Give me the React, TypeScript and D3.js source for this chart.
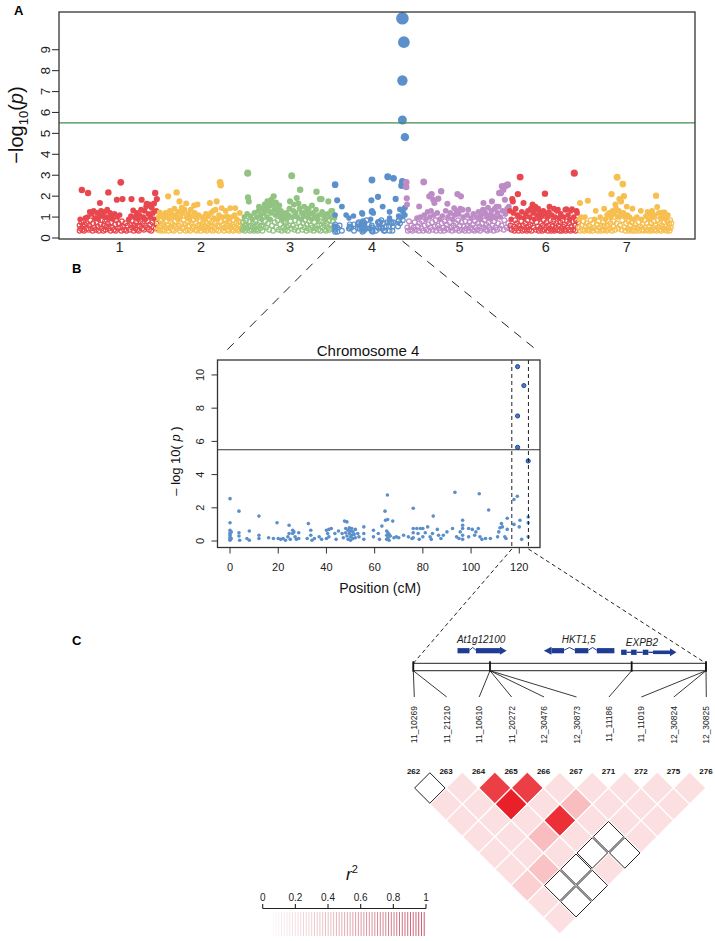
import React from "react";
import * as d3 from "d3";

const FONT = "'Liberation Sans', Arial, Helvetica, sans-serif";

// ---------- Panel A data ----------
const CHR_NAMES = ["1", "2", "3", "4", "5", "6", "7"];
const CHR_LENGTHS = [138, 151, 165, 126, 184, 122, 165];
const CHR_COLORS = ["#E8474E", "#F6BF4F", "#92C382", "#5C90CB", "#BD8BC5", "#E8474E", "#F6BF4F"];

const CHR1_POINTS = [
  5,2.3, 16,2.15, 37,1.67, 52,2.18, 67,1.83, 74,2.66, 77,1.86, 93,1.86, 96,1.32, 111,1.83, 120,1.64, 135,2.15, 138,1.86,
  1,0.35, 1,0.6, 2,0.9, 3,0.45, 4,0.75, 6,0.4, 7,0.55, 8,0.8, 9,0.35, 10,0.65, 11,0.95, 13,0.45, 14,0.7, 15,1.0, 17,0.4,
  18,0.6, 19,1.25, 20,0.85, 21,0.45, 22,1.15, 24,0.35, 25,0.7, 26,1.3, 27,0.5, 28,0.95, 30,0.4, 31,0.75, 32,1.2, 33,0.55,
  34,0.9, 35,0.35, 36,1.1, 38,0.65, 39,1.3, 40,0.45, 41,0.85, 42,1.05, 43,0.35, 44,0.6, 45,1.25, 46,0.8, 47,0.4, 48,1.0,
  49,0.55, 50,1.35, 51,0.7, 53,0.45, 54,0.95, 55,1.2, 56,0.35, 57,0.75, 58,1.05, 59,0.5, 60,0.9, 62,0.4, 63,1.15, 64,0.65,
  65,0.35, 66,0.85, 68,1.0, 69,0.45, 70,0.7, 72,1.1, 73,0.5, 75,0.35, 76,0.8, 78,0.55, 80,0.4, 82,0.7, 84,0.35, 86,0.6,
  88,0.9, 90,0.4, 91,0.65, 92,1.05, 94,0.5, 95,0.8, 97,0.35, 98,0.6, 99,1.0, 100,0.45, 101,0.75, 102,1.2, 103,0.4, 104,0.6,
  105,0.9, 106,0.35, 107,1.1, 108,0.55, 109,0.8, 110,1.35, 112,0.45, 113,0.7, 114,1.0, 115,0.4, 116,1.3, 117,0.6, 118,0.9,
  119,1.5, 121,0.5, 122,0.8, 123,1.15, 124,0.4, 125,1.6, 126,0.65, 127,1.0, 128,0.35, 129,1.45, 130,0.75, 131,1.2, 132,0.5,
  133,1.65, 134,0.9, 136,0.45, 137,1.3, 137,0.7,
];
const CHR2_POINTS = [
  5,1.23, 20,1.99, 35,2.18, 40,1.75, 44,1.45, 52,1.65, 60,1.35, 66,1.55, 72,1.6, 94,1.67, 100,1.3, 106,1.75, 112,2.66,
  113,2.53, 115,1.43, 122,1.3, 130,1.43, 139,1.43, 147,1.2,
  1,0.4, 2,0.75, 3,1.0, 4,0.5, 6,0.35, 7,0.85, 8,0.6, 9,1.1, 10,0.4, 11,0.7, 12,0.95, 13,0.35, 14,0.55, 15,1.2, 16,0.8,
  17,0.45, 18,1.05, 19,0.6, 21,0.35, 22,0.9, 23,1.3, 24,0.5, 25,0.75, 26,1.15, 27,0.4, 28,0.65, 29,1.0, 30,0.35, 31,1.4,
  32,0.8, 33,0.55, 34,1.1, 36,0.45, 37,0.9, 38,1.25, 39,0.6, 41,0.35, 42,1.0, 43,0.7, 45,0.45, 46,1.2, 47,0.85, 48,0.5,
  49,1.35, 50,0.65, 51,0.35, 53,1.0, 54,0.75, 55,0.4, 56,1.15, 57,0.6, 58,0.9, 59,0.35, 61,0.7, 62,1.05, 63,0.45, 64,0.85,
  65,0.55, 67,1.2, 68,0.4, 69,0.7, 70,0.95, 71,0.35, 73,0.6, 74,1.1, 75,0.45, 77,0.8, 78,0.35, 79,0.65, 80,1.0, 81,0.5,
  82,0.75, 84,0.4, 85,0.9, 86,0.55, 87,1.15, 88,0.35, 89,0.7, 90,0.45, 91,1.05, 92,0.6, 93,0.85, 95,0.4, 96,1.2, 97,0.55,
  98,0.8, 99,0.35, 101,0.95, 102,0.5, 103,0.7, 104,1.35, 105,0.4, 107,0.6, 108,0.9, 109,0.35, 110,1.1, 111,0.55, 114,0.8,
  116,0.45, 117,1.0, 118,0.65, 119,0.35, 120,0.85, 121,0.5, 123,0.7, 124,1.05, 125,0.4, 126,0.6, 127,0.9, 128,0.35,
  129,0.75, 131,0.5, 132,1.0, 133,0.4, 134,0.65, 135,0.85, 136,0.35, 137,0.55, 138,1.1, 140,0.45, 141,0.7, 142,0.9,
  143,0.4, 144,0.6, 145,0.8, 146,0.35, 148,0.55, 149,0.75, 150,0.45,
];
const CHR3_POINTS = [
  10,3.1, 10.5,1.94, 12,1.74, 30,1.5, 40,1.6, 45,1.75, 52,1.83, 56,1.99, 60,1.7, 66,1.55, 85,1.75, 88,2.98, 92,1.6,
  97,1.91, 100,1.65, 103,2.31, 110,1.5, 118,1.4, 124,1.55, 132,2.21, 138,1.86, 141,1.86, 153,1.75, 160,1.3,
  1,0.4, 2,0.75, 3,0.5, 4,1.0, 5,0.35, 6,0.6, 7,0.85, 8,0.45, 9,1.15, 11,0.55, 13,0.8, 14,0.35, 15,1.05, 16,0.6, 17,0.4,
  18,0.9, 19,0.5, 20,0.7, 21,0.35, 22,1.2, 23,0.55, 24,0.8, 25,0.4, 26,1.0, 27,0.65, 28,0.35, 29,1.3, 31,0.75, 32,0.45,
  33,1.1, 34,0.6, 35,0.9, 36,0.35, 37,1.4, 38,0.55, 39,1.2, 41,0.8, 42,1.45, 43,0.5, 44,1.0, 46,0.7, 47,1.3, 48,0.4,
  49,1.55, 50,0.9, 51,1.2, 53,0.6, 54,1.6, 55,0.35, 57,1.35, 58,0.75, 59,1.1, 61,0.5, 62,1.45, 63,0.85, 64,1.2, 65,0.4,
  67,1.0, 68,0.65, 69,1.3, 70,0.35, 71,0.9, 72,1.15, 73,0.5, 74,0.8, 75,1.05, 76,0.4, 77,0.7, 78,1.2, 79,0.55, 80,0.95,
  81,0.35, 82,1.1, 83,0.6, 84,1.4, 86,0.8, 87,0.45, 89,1.0, 90,0.6, 91,1.3, 93,0.4, 94,0.85, 95,1.2, 96,0.5, 98,1.0,
  99,0.35, 101,0.75, 102,1.4, 104,0.55, 105,0.9, 106,1.2, 107,0.4, 108,0.7, 109,1.05, 111,0.5, 112,0.85, 113,1.25,
  114,0.35, 115,0.65, 116,1.0, 117,0.45, 119,0.8, 120,1.15, 121,0.4, 122,0.6, 123,0.9, 125,0.5, 126,1.2, 127,0.35,
  128,0.75, 129,1.0, 130,0.45, 131,1.35, 133,0.6, 134,0.9, 135,0.4, 136,1.1, 137,0.65, 139,0.35, 140,0.8, 142,1.25,
  143,0.5, 144,0.75, 145,1.05, 146,0.4, 147,0.6, 148,0.9, 149,0.35, 150,0.7, 151,1.15, 152,0.5, 154,0.85, 155,0.4,
  156,1.0, 157,0.6, 158,1.3, 159,0.45, 161,0.8, 162,1.1, 163,0.55, 164,0.95,
];
const CHR5_POINTS = [
  0,2.66, 0,2.44, 1,1.9, 1.5,1.6, 23,1.51, 31,2.68, 41,1.99, 45,2.1, 48,1.83, 50,1.67, 57,1.88, 62,2.23, 73,1.64, 85,1.43,
  91,2.1, 97,1.99, 100,1.35, 110,1.35, 137,1.67, 152,1.75, 160,1.5, 165,2.15, 168,2.15, 170,2.47, 172,2.31, 175,1.83,
  177,2.5, 180,2.55, 182,1.5,
  2,0.5, 3,0.35, 5,0.8, 7,0.4, 9,0.6, 11,0.35, 13,0.5, 15,0.75, 17,0.4, 19,0.95, 21,0.55, 22,0.35, 24,0.7, 25,1.0,
  27,0.45, 28,0.8, 30,0.35, 32,1.1, 33,0.6, 35,0.9, 36,0.4, 38,1.25, 39,0.65, 40,0.35, 42,1.0, 43,0.5, 44,1.3, 46,0.75,
  47,0.4, 49,1.1, 51,0.55, 52,0.85, 53,0.35, 55,1.2, 56,0.6, 58,0.45, 59,0.9, 61,0.35, 63,0.7, 64,1.05, 66,0.5, 67,0.35,
  68,0.8, 70,1.3, 71,0.45, 72,0.65, 74,1.0, 75,0.4, 77,0.75, 78,1.2, 80,0.5, 81,0.35, 82,0.9, 84,0.6, 86,1.1, 87,0.4,
  88,0.7, 89,1.3, 90,0.45, 92,0.85, 93,1.15, 94,0.35, 95,0.6, 96,1.4, 98,0.75, 99,0.4, 101,1.0, 102,0.55, 104,0.35,
  105,0.8, 107,0.45, 108,1.1, 109,0.6, 111,0.35, 112,0.75, 114,0.5, 115,0.95, 117,0.4, 118,0.65, 119,1.15, 121,0.35,
  122,0.8, 123,0.5, 125,1.0, 126,0.4, 127,0.7, 128,1.25, 130,0.55, 131,0.35, 132,0.9, 133,1.1, 134,0.45, 135,0.7,
  136,1.35, 138,0.5, 139,0.85, 140,1.2, 141,0.4, 142,0.65, 143,1.0, 144,0.35, 145,1.45, 146,0.75, 147,0.5, 148,1.1,
  149,0.4, 150,0.9, 151,1.3, 153,0.6, 154,1.05, 155,0.35, 156,0.8, 157,1.4, 158,0.5, 159,0.95, 161,0.4, 162,1.2,
  163,0.7, 164,1.5, 166,0.45, 167,1.0, 169,0.6, 171,1.3, 173,0.4, 174,0.85, 176,1.15, 178,0.5, 179,1.4, 181,0.7, 183,0.45,
];
const CHR6_POINTS = [
  4,1.86, 5,1.75, 14,2.1, 18,2.91, 24,1.67, 40,1.6, 45,1.5, 50,1.4, 62,2.12, 70,1.5, 78,1.4, 85,1.35, 100,1.38, 110,1.38,
  114,3.1, 118,1.3,
  0,1.3, 1,0.6, 2,0.9, 3,0.4, 6,1.2, 7,0.55, 8,0.35, 9,0.85, 10,1.4, 11,0.45, 12,0.7, 13,1.1, 15,0.35, 16,0.6, 17,1.0,
  19,0.45, 20,0.8, 21,1.25, 22,0.35, 23,0.6, 25,0.95, 26,0.4, 27,0.7, 28,1.15, 29,0.5, 30,0.35, 31,0.85, 32,1.3, 33,0.55,
  34,0.4, 35,1.0, 36,0.65, 37,1.4, 38,0.35, 39,0.8, 41,1.2, 42,0.5, 43,0.9, 44,1.35, 46,0.4, 47,0.75, 48,1.1, 49,0.55,
  51,0.35, 52,0.95, 53,1.25, 54,0.45, 55,0.7, 56,1.05, 57,0.35, 58,0.6, 59,1.3, 60,0.85, 61,0.4, 63,1.15, 64,0.5, 65,0.75,
  66,1.0, 67,0.35, 68,0.6, 69,1.25, 71,0.45, 72,0.85, 73,0.35, 74,1.1, 75,0.55, 76,0.4, 77,0.8, 79,0.35, 80,1.0, 81,0.5,
  82,0.7, 83,1.3, 84,0.4, 86,0.6, 87,0.95, 88,0.35, 89,0.75, 90,1.15, 91,0.45, 92,0.35, 93,0.85, 94,0.55, 95,1.0, 96,0.4,
  97,0.65, 98,1.35, 99,0.35, 101,0.8, 102,0.5, 103,1.1, 104,0.4, 105,0.7, 106,0.9, 107,0.35, 108,1.3, 109,0.55, 111,0.8,
  112,0.4, 113,1.0, 115,0.6, 116,0.35, 117,0.85, 119,1.2, 120,0.5, 121,0.75,
];
const CHR7_POINTS = [
  2,1.67, 16,1.78, 30,1.3, 45,1.4, 58,2.1, 65,1.6, 68,2.9, 72,1.86, 75,1.75, 78,2.58, 80,2.0, 85,1.5, 95,1.4, 110,1.3,
  122,1.25, 130,1.3, 137,2.02, 139,1.48, 148,1.23, 152,1.23,
  0,0.5, 1,0.9, 3,0.35, 4,1.0, 5,0.6, 7,0.4, 8,0.8, 10,0.35, 11,1.0, 12,0.55, 14,0.7, 15,0.4, 18,0.6, 19,0.35, 21,0.85,
  22,0.45, 24,0.35, 25,0.7, 27,0.5, 28,0.9, 31,0.4, 32,0.65, 34,0.35, 35,0.8, 37,0.5, 38,1.0, 40,0.35, 41,0.6, 43,0.75,
  44,0.4, 46,0.55, 47,0.9, 49,0.35, 50,1.1, 51,0.6, 52,0.4, 53,0.8, 54,1.2, 55,0.45, 56,0.7, 57,1.0, 59,0.35, 60,1.3,
  61,0.55, 62,0.8, 63,1.15, 64,0.4, 66,1.4, 67,0.7, 69,1.0, 70,0.45, 71,1.3, 73,0.6, 74,1.1, 76,0.4, 77,0.85, 79,1.2,
  81,0.5, 82,1.0, 83,0.35, 84,0.7, 86,1.1, 87,0.45, 88,0.8, 89,0.35, 90,1.0, 91,0.6, 93,0.4, 94,0.75, 96,0.35, 97,0.9,
  98,0.5, 100,0.65, 101,0.35, 103,1.0, 104,0.45, 106,0.75, 107,0.35, 109,0.55, 111,0.9, 112,0.4, 113,0.65, 115,0.35,
  116,0.85, 118,0.5, 119,1.05, 120,0.4, 121,0.7, 123,0.35, 124,0.9, 125,0.55, 126,1.15, 127,0.4, 128,0.7, 129,0.35,
  131,1.0, 132,0.5, 133,0.8, 134,0.4, 135,1.1, 136,0.6, 138,0.35, 140,0.85, 141,0.5, 142,1.2, 143,0.4, 144,0.7, 145,0.95,
  146,0.35, 147,0.6, 149,1.0, 150,0.45, 151,0.75, 153,0.4, 154,0.9, 155,0.55, 156,0.35, 157,0.8, 158,1.1, 159,0.45,
  160,0.65, 161,0.35, 162,0.85, 163,0.5, 164,0.7,
];

// ---------- Chromosome 4 (panel B, also chr 4 of panel A) ----------
const CHR4_POINTS = [
  0,2.55, 0,1.1, 0,0.65, 0,0.5, 0,0.4, 0,0.3, 0,0.2, 0,0.1, 0,0.05, 0.5,0.55, 0.5,0.15,
  3.7,1.8, 3.7,0.5, 3.7,0.3, 4,0.05, 7,0.15, 8,0.6, 8,0.05,
  12,1.5, 12,0.35, 12,0.15, 16,0.2, 18,0.15, 19.5,1.1, 20,0.15, 21,0.1, 22,0.15, 23,0.05, 24,0.25, 24.5,0.95, 24.5,0.45,
  25,0.1, 26,0.65, 26,0.45, 26.5,0.55, 27,0.25, 27.5,0.1, 28.5,0.5, 28.5,0.15,
  32,0.15, 32.5,1.05, 33.5,0.65, 33.5,0.35, 34,0.05, 35,0.15, 37,0.25, 38,0.1, 40,0.65, 40,0.15, 40.5,0.45, 41,0.7,
  41,0.25, 42,0.75, 43.5,0.45, 44,0.1, 45,0.6, 46.5,0.45, 47,0.2, 47.5,1.2, 48.5,1.15, 48,0.75, 48,0.5, 48.5,0.3, 49,0.65,
  49,0.1, 49.5,0.8, 49.5,0.45, 50,0.6, 50,0.25, 50,0.05, 50.5,0.75, 50.5,0.35, 51,0.55, 51,0.15, 51.5,0.4, 52,0.7, 52,0.2,
  53,0.45, 53.5,0.25, 55.5,0.85, 55.5,0.45, 55.5,0.1,
  59.5,0.65, 59.5,0.25, 61.5,0.45, 62,0.1, 63,0.9, 64.3,1.8, 64.5,1.25, 65.3,2.77, 65.4,1.3, 65,0.6, 65,0.35, 65,0.1,
  65.5,0.5, 65.5,0.2, 66,0.4, 66,0.05, 66.5,0.3, 67.5,1.2, 68,0.2, 69,0.25, 70,0.2, 72,0.35, 74,0.25, 75.5,0.15,
  76,1.97, 76,0.75, 76,0.5, 76,0.2, 77.5,0.75, 78,0.45, 78.5,0.1, 79,0.75, 80,0.75, 80,0.25, 81,0.5, 82,0.85, 83,0.25,
  83.5,0.1, 84,0.45, 84.3,1.5, 86,0.7, 86.5,0.35, 87.5,0.15, 88.5,0.35, 90,0.55, 92.3,0.75, 93.3,2.93, 94,0.25, 95,0.15,
  95.5,0.55, 96.5,1.25, 96.5,0.95, 96.5,0.75, 96.5,0.35, 96.5,0.1, 99,0.75, 99,0.25, 100.5,0.7, 101.5,0.35, 102,0.55,
  103,0.75, 103.4,2.85, 103.7,0.25, 104.5,0.1, 106,0.15, 107.3,1.87, 108,0.15,
  111,0.25, 111.5,0.55, 112,0.8, 112.6,1.05, 113,0.85, 114,0.25, 114.5,0.15, 115,1.37, 115,0.7, 117.8,1.0, 117.8,2.5,
  119.2,2.7, 120,0.85, 120.3,1.25, 121,0.1, 123.7,1.45, 123.7,1.1, 123.7,0.25,
];
const CHR4_PEAK = [119.3,10.5, 121.9,9.36, 119.3,7.53, 119.3,5.64, 123.7,4.82];

const THRESHOLD = 5.5;
const A_Y_TICKS = [0, 1, 2, 3, 4, 5, 6, 7, 8, 9];
const B_X_TICKS = [0, 20, 40, 60, 80, 100, 120];
const B_Y_TICKS = [0, 2, 4, 6, 8, 10];
const B_WINDOW = [116.9, 123.8];
const A_MIN_SHOWN = 0.3;

// ---------- Panel C data ----------
const SNP_NAMES = ["11_10269", "11_21210", "11_10610", "11_20272", "12_30476", "12_30873", "11_11186", "11_11019", "12_30824", "12_30825"];
const SNP_REGION_POS = [0, 0, 26.2, 26.2, 26.2, 26.2, 74.6, 100, 100, 100];
const REGION_BREAKS = [0, 26.2, 74.6, 100];
const MARKER_IDS = ["262", "263", "264", "265", "266", "267", "271", "272", "275", "276"];
// LD r² by distance (row k holds pairs (i, i+k))
const LD_ROWS = [
  [0, 0.13, 0.82, 0.82, 0.13, 0.13, 0.13, 0.13, 0.13],
  [0.13, 0.13, 0.95, 0.13, 0.28, 0.13, 0.13, 0.13],
  [0.13, 0.13, 0.13, 0.88, 0.13, 0.13, 0.13],
  [0.13, 0.13, 0.28, 0.13, 0, 0.13],
  [0.13, 0.13, 0.13, 0, 0],
  [0.13, 0.26, 0, 0.13],
  [0.2, 0, 0],
  [0.13, 0],
  [0.13],
];
const GENES = [
  { name: "At1g12100", label: 14.9, y: 650.7, parts: [["exon", 15.1, 19.2], ["intron", 19.2, 21.4], ["exon", 21.4, 29.6], ["head", 29.6, 31.9]] },
  { name: "HKT1,5", label: 50.7, y: 650.7, parts: [["head", 47.2, 44.6], ["exon", 47.2, 51.5], ["intron", 51.5, 55.2], ["exon", 55.2, 59.8], ["intron", 59.8, 62.7], ["exon", 62.7, 68.7]] },
  { name: "EXPB2", label: 72.6, y: 652.3, parts: [["exon", 71.0, 72.9], ["line", 72.9, 74.4], ["exon", 74.4, 76.3], ["line", 76.3, 78.4], ["exon", 78.4, 80.3], ["line", 80.3, 81.9], ["shaft", 81.9, 87.7], ["head", 87.7, 89.9]] },
];
const GENE_LABEL_Y = [643.3, 642.7, 646];
const LEGEND_TICKS = [0, 0.2, 0.4, 0.6, 0.8, 1];

const pairs = (flat: number[]) => d3.range(0, flat.length, 2).map((i) => [flat[i], flat[i + 1]] as [number, number]);

export default function App() {
  // ----- Panel A -----
  const chrPoints = [CHR1_POINTS, CHR2_POINTS, CHR3_POINTS, null, CHR5_POINTS, CHR6_POINTS, CHR7_POINTS].map((p, i) =>
    i === 3 ? pairs(CHR4_POINTS).filter((d) => d[1] >= A_MIN_SHOWN).concat(pairs(CHR4_PEAK)) : pairs(p as number[])
  );
  const offsets = [0, ...Array.from(d3.cumsum(CHR_LENGTHS))];
  const xA = d3.scaleLinear().domain([-35.5, 1092]).range([59, 695]);
  const yA = d3.scaleLinear().domain([0, 10.85]).range([238, 11]);
  const aBox = { l: 59, t: 12, r: 695, b: 239 };

  // ----- Panel B -----
  const xB = d3.scaleLinear().domain([-5.2, 128.6]).range([217.5, 540]);
  const yB = d3.scaleLinear().domain([-0.39, 10.9]).range([547.5, 360]);
  const bBox = { l: 217.5, t: 360, r: 540, b: 547.5 };
  const bPts = pairs(CHR4_POINTS);
  const bPeak = pairs(CHR4_PEAK);

  // ----- Panel C -----
  const regionX = d3.scaleLinear().domain([0, 100]).range([413.3, 706]);
  const snpX = d3.scalePoint<string>().domain(SNP_NAMES).range([414.3, 706.3]);
  const mX = d3.scalePoint<string>().domain(MARKER_IDS).range([413.6, 706]);
  const half = mX.step() / 2;
  const ldColor = d3.interpolateRgb("#ffffff", "#E8141C");
  const barTop = 663.3, barBot = 670.7;
  const legX = d3.scaleLinear().domain([0, 1]).range([262.7, 426]);
  const legColor = d3.interpolateRgb("#ffffff", "#C9596B");
  const stripes = d3.range(0.065, 1.0001, 0.0168);

  const cells: { cx: number; cy: number; r2: number; key: string }[] = [];
  LD_ROWS.forEach((row, k) => {
    row.forEach((r2, i) => {
      const a = MARKER_IDS[i], b = MARKER_IDS[i + k + 1];
      cells.push({ cx: ((mX(a) as number) + (mX(b) as number)) / 2, cy: 788 + k * half, r2, key: a + "-" + b });
    });
  });
  const diamond = (cx: number, cy: number, h: number) => `M${cx},${cy - h}L${cx + h},${cy}L${cx},${cy + h}L${cx - h},${cy}Z`;

  const geneEls: React.ReactNode[] = [];
  GENES.forEach((g, gi) => {
    g.parts.forEach((p, pi) => {
      const [type, s, e] = p as [string, number, number];
      const x1 = regionX(s), x2 = regionX(e);
      const key = g.name + pi;
      if (type === "exon") geneEls.push(<rect key={key} x={x1} y={g.y - 2.6} width={x2 - x1} height={5.2} fill="#1E3C92" />);
      else if (type === "shaft") geneEls.push(<rect key={key} x={x1} y={g.y - 1.8} width={x2 - x1} height={3.6} fill="#1E3C92" />);
      else if (type === "line") geneEls.push(<line key={key} x1={x1} x2={x2} y1={g.y} y2={g.y} stroke="#1E3C92" strokeWidth={1.3} />);
      else if (type === "intron")
        geneEls.push(<polyline key={key} points={`${x1},${g.y - 0.5} ${(x1 + x2) / 2},${g.y - 3.2} ${x2},${g.y - 0.5}`} fill="none" stroke="#1E3C92" strokeWidth={1} />);
      else if (type === "head") geneEls.push(<path key={key} d={`M${x1},${g.y - 4}L${x2},${g.y}L${x1},${g.y + 4}Z`} fill="#1E3C92" />);
    });
    geneEls.push(
      <text key={g.name + "lbl"} x={regionX(g.label)} y={GENE_LABEL_Y[gi]} fontSize={10} fontStyle="italic" fill="#222">
        {g.name}
      </text>
    );
  });

  return (
    <svg width={715} height={941} style={{ position: "absolute", left: 0, top: 0, background: "#fff" }} fontFamily={FONT}>
      <rect width={715} height={941} fill="#fff" />
      {/* ===== Panel A ===== */}
      <text x={14} y={15} fontSize={13} fontWeight="bold">A</text>
      {chrPoints.map((pts, ci) =>
        pts.map(([pos, v], i) => {
          const cx = xA(offsets[ci] + pos), cy = yA(v);
          return v < 0.9 ? (
            <circle key={ci + "-" + i} cx={cx} cy={cy} r={2.4} fill="none" stroke={CHR_COLORS[ci]} strokeWidth={1.2} />
          ) : (
            <circle key={ci + "-" + i} cx={cx} cy={cy} r={2.4 + 0.37 * v} fill={CHR_COLORS[ci]} />
          );
        })
      )}
      <line x1={aBox.l} x2={aBox.r} y1={yA(THRESHOLD)} y2={yA(THRESHOLD)} stroke="#3C8C50" strokeWidth={1.2} />
      <rect x={aBox.l} y={aBox.t} width={aBox.r - aBox.l} height={aBox.b - aBox.t} fill="none" stroke="#333" strokeWidth={1.3} />
      {A_Y_TICKS.map((t) => (
        <g key={"ayt" + t}>
          <line x1={aBox.l - 7} x2={aBox.l} y1={yA(t)} y2={yA(t)} stroke="#333" strokeWidth={1.1} />
          <text transform={`translate(50,${yA(t)}) rotate(-90)`} textAnchor="middle" fontSize={13.5} fill="#222">{t}</text>
        </g>
      ))}
      <text transform="translate(23,125) rotate(-90)" textAnchor="middle" fontSize={20} fill="#111">
        −log<tspan fontSize={13} dy={5}>10</tspan>
        <tspan dy={-5}>(</tspan>
        <tspan fontStyle="italic">p</tspan>)
      </text>
      {CHR_NAMES.map((n, i) => (
        <text key={"chr" + n} x={xA(offsets[i] + CHR_LENGTHS[i] / 2) + 1.5} y={252} textAnchor="middle" fontSize={14.5} fill="#222">{n}</text>
      ))}

      {/* connectors A -> B */}
      <line x1={xA(offsets[3])} y1={241} x2={226} y2={351} stroke="#222" strokeWidth={1} strokeDasharray="9,7" />
      <line x1={xA(offsets[3] + bPeak[0][0])} y1={241} x2={539} y2={352} stroke="#222" strokeWidth={1} strokeDasharray="9,7" />

      {/* ===== Panel B ===== */}
      <text x={72} y={273} fontSize={13} fontWeight="bold">B</text>
      <text x={368} y={356} textAnchor="middle" fontSize={15} fill="#111">Chromosome 4</text>
      {bPts.map(([x, v], i) => (
        <circle key={"b" + i} cx={xB(x)} cy={yB(v)} r={1.8} fill="#5B8FCA" />
      ))}
      {bPeak.map(([x, v], i) => (
        <circle key={"bp" + i} cx={xB(x)} cy={yB(v)} r={2.1} fill="#4D79BE" stroke="#24479A" strokeWidth={1} />
      ))}
      <line x1={bBox.l} x2={bBox.r} y1={yB(THRESHOLD)} y2={yB(THRESHOLD)} stroke="#333" strokeWidth={1.1} />
      {B_WINDOW.map((w) => (
        <line key={"win" + w} x1={xB(w)} x2={xB(w)} y1={bBox.t} y2={bBox.b} stroke="#222" strokeWidth={1} strokeDasharray="4,3" />
      ))}
      <rect x={bBox.l} y={bBox.t} width={bBox.r - bBox.l} height={bBox.b - bBox.t} fill="none" stroke="#333" strokeWidth={1.3} />
      {B_Y_TICKS.map((t) => (
        <g key={"byt" + t}>
          <line x1={bBox.l - 6} x2={bBox.l} y1={yB(t)} y2={yB(t)} stroke="#333" strokeWidth={1} />
          <text transform={`translate(204,${yB(t)}) rotate(-90)`} textAnchor="middle" fontSize={11} fill="#222">{t}</text>
        </g>
      ))}
      {B_X_TICKS.map((t) => (
        <g key={"bxt" + t}>
          <line x1={xB(t)} x2={xB(t)} y1={bBox.b} y2={bBox.b + 6} stroke="#333" strokeWidth={1} />
          <text x={xB(t)} y={571} textAnchor="middle" fontSize={11} fill="#222">{t}</text>
        </g>
      ))}
      <text transform="translate(180,461) rotate(-90)" textAnchor="middle" fontSize={13} fill="#111">
        {"– log 10( "}<tspan fontStyle="italic">p</tspan>{" )"}
      </text>
      <text x={380} y={593} textAnchor="middle" fontSize={14} fill="#111">Position (cM)</text>

      {/* connectors B -> C */}
      <line x1={xB(B_WINDOW[0])} y1={549} x2={regionX(0)} y2={barTop} stroke="#222" strokeWidth={1} strokeDasharray="4,3" />
      <line x1={xB(B_WINDOW[1])} y1={549} x2={regionX(100)} y2={barTop} stroke="#222" strokeWidth={1} strokeDasharray="4,3" />

      {/* ===== Panel C ===== */}
      <text x={72} y={645} fontSize={13} fontWeight="bold">C</text>
      {geneEls}
      <rect x={regionX(0)} y={barTop} width={regionX(100) - regionX(0)} height={barBot - barTop} fill="none" stroke="#222" strokeWidth={1} />
      {REGION_BREAKS.map((b) => (
        <line key={"rb" + b} x1={regionX(b)} x2={regionX(b)} y1={barTop - 2} y2={barBot + 1} stroke="#111" strokeWidth={1.8} />
      ))}
      {SNP_NAMES.map((s, i) => (
        <g key={"snp" + s}>
          <line x1={regionX(SNP_REGION_POS[i])} y1={barBot} x2={snpX(s)} y2={697} stroke="#222" strokeWidth={0.9} />
          <text transform={`translate(${(snpX(s) as number) + 3},706) rotate(-90)`} textAnchor="end" fontSize={8.5} fill="#222">{s}</text>
        </g>
      ))}
      {MARKER_IDS.map((m) => (
        <text key={"m" + m} x={mX(m)} y={773.5} textAnchor="middle" fontSize={8} fontWeight="bold" fill="#111">{m}</text>
      ))}
      {cells.filter((c) => c.r2 > 0).map((c) => (
        <path key={c.key} d={diamond(c.cx, c.cy, half)} fill={ldColor(c.r2)} stroke="#fff" strokeWidth={1.2} />
      ))}
      {cells.filter((c) => c.r2 === 0).map((c) => (
        <path key={c.key} d={diamond(c.cx, c.cy, half - 1)} fill="#fff" stroke="#222" strokeWidth={1} />
      ))}

      {/* r² legend */}
      <text x={346} y={880} fontSize={17} fontStyle="italic" fill="#111">
        r<tspan fontSize={11} dy={-7} fontStyle="normal">2</tspan>
      </text>
      <line x1={legX(0)} x2={legX(1)} y1={908.5} y2={908.5} stroke="#222" strokeWidth={1.2} />
      {LEGEND_TICKS.map((t) => (
        <g key={"lt" + t}>
          <line x1={legX(t)} x2={legX(t)} y1={904} y2={908.5} stroke="#222" strokeWidth={1.1} />
          <text x={legX(t)} y={901} textAnchor="middle" fontSize={10} fill="#222">{t}</text>
        </g>
      ))}
      {stripes.map((v) => (
        <line key={"st" + v} x1={legX(v)} x2={legX(v)} y1={912} y2={936} stroke={legColor(v)} strokeWidth={1} />
      ))}
    </svg>
  );
}
